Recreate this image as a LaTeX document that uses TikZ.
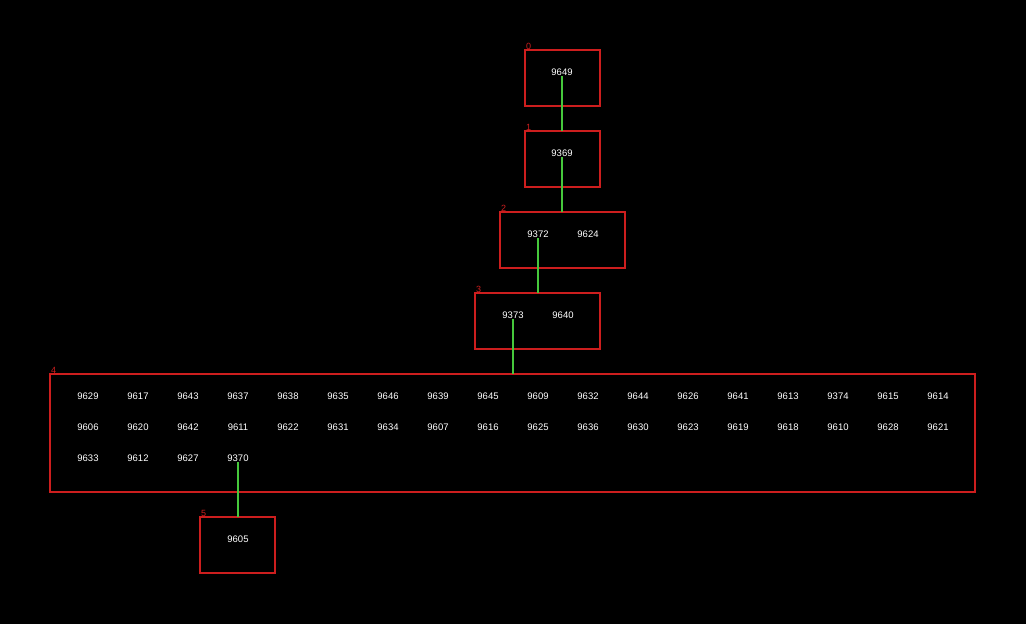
\documentclass[tikz,border=0pt]{standalone}
\usepackage{fontspec}
\setmainfont{Liberation Sans}
\definecolor{boxred}{RGB}{205,30,30}
\definecolor{edgegreen}{RGB}{70,200,60}
\begin{document}
\begin{tikzpicture}[x=1pt,y=-1pt,
  cluster/.style={draw=boxred,line width=1.1pt,fill=none},
  lbl/.style={text=white,font=\fontsize{9.5}{10}\selectfont,inner sep=0.5pt},
  cnum/.style={text=boxred,font=\fontsize{9}{10}\selectfont,inner sep=0pt,anchor=south west},
  edge/.style={draw=edgegreen,line width=1.1pt}]
\fill[black] (0,0) rectangle (1026,624);
\useasboundingbox (0,0) rectangle (1026,624);
% clusters
\draw[cluster] (525,50) rectangle (600,106);
\coordinate (c0) at (525,50);
\draw[cluster] (525,131) rectangle (600,187);
\coordinate (c1) at (525,131);
\draw[cluster] (500,212) rectangle (625,268);
\coordinate (c2) at (500,212);
\draw[cluster] (475,293) rectangle (600,349);
\coordinate (c3) at (475,293);
\draw[cluster] (50,374) rectangle (975,492);
\coordinate (c4) at (50,374);
\draw[cluster] (200,517) rectangle (275,573);
\coordinate (c5) at (200,517);
\node[cnum] (n0) at ([xshift=1]c0) {0};
\node[cnum] (n1) at ([xshift=1]c1) {1};
\node[cnum] (n2) at ([xshift=1]c2) {2};
\node[cnum] (n3) at ([xshift=1]c3) {3};
\node[cnum] (n4) at ([xshift=1]c4) {4};
\node[cnum] (n5) at ([xshift=1]c5) {5};
% nodes
\node[lbl] (t9649) at (562,72) {9649};
\node[lbl] (t9369) at (562,153) {9369};
\node[lbl] (t9372) at (538,234) {9372};
\node[lbl] (t9624) at (588,234) {9624};
\node[lbl] (t9373) at (513,315) {9373};
\node[lbl] (t9640) at (563,315) {9640};
\foreach \t [count=\i from 0] in {9629,9617,9643,9637,9638,9635,9646,9639,9645,9609,9632,9644,9626,9641,9613,9374,9615,9614}
  \node[lbl] (t\t) at (88+50*\i,396) {\t};
\foreach \t [count=\i from 0] in {9606,9620,9642,9611,9622,9631,9634,9607,9616,9625,9636,9630,9623,9619,9618,9610,9628,9621}
  \node[lbl] (t\t) at (88+50*\i,427) {\t};
\foreach \t [count=\i from 0] in {9633,9612,9627,9370}
  \node[lbl] (t\t) at (88+50*\i,458) {\t};
\node[lbl] (t9605) at (238,539) {9605};
% edges
\coordinate (e1) at (562,131);
\coordinate (e2) at (562,212);
\coordinate (e3) at (538,293);
\coordinate (e4) at (513,374);
\coordinate (e5) at (238,517);
\draw[edge] (t9649.south) -- (e1);
\draw[edge] (t9369.south) -- (e2);
\draw[edge] (t9372.south) -- (e3);
\draw[edge] (t9373.south) -- (e4);
\draw[edge] (t9370.south) -- (e5);
\end{tikzpicture}
\end{document}
